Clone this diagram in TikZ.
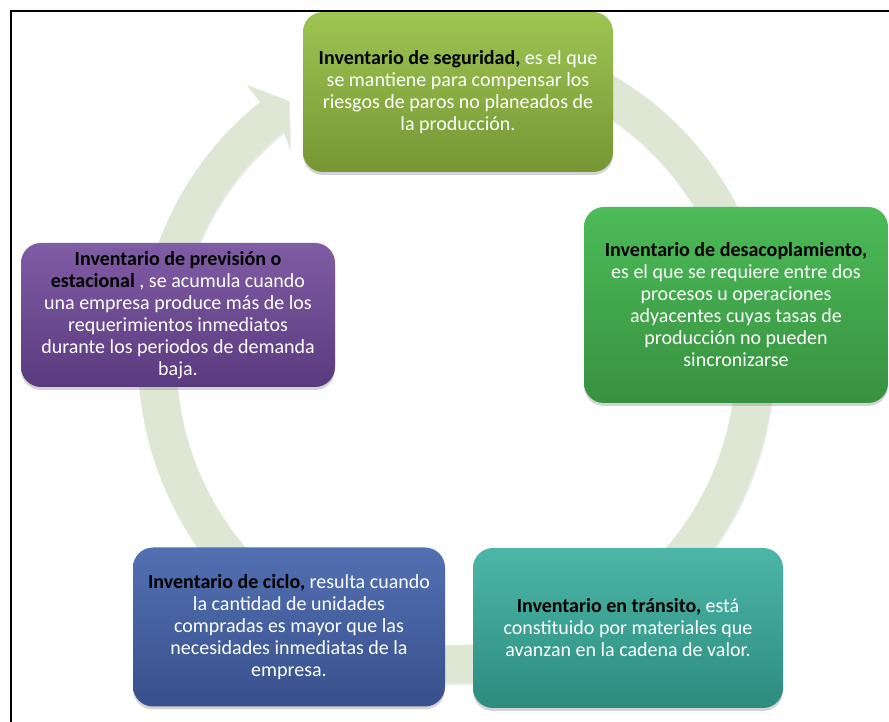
\documentclass[tikz,border=0pt]{standalone}
\usepackage{fontspec}
\setmainfont{Carlito}
\usetikzlibrary{shadows}

\definecolor{segtop}{RGB}{158,196,82}
\definecolor{segbot}{RGB}{118,150,52}
\definecolor{destop}{RGB}{76,187,88}
\definecolor{desbot}{RGB}{56,145,64}
\definecolor{trantop}{RGB}{76,182,168}
\definecolor{tranbot}{RGB}{44,140,126}
\definecolor{cictop}{RGB}{82,112,178}
\definecolor{cicbot}{RGB}{56,80,140}
\definecolor{prevtop}{RGB}{128,92,164}
\definecolor{prevbot}{RGB}{90,58,126}
\definecolor{ringfill}{RGB}{222,231,211}

\newcommand{\inv}[1]{\textcolor{black}{\textbf{#1}}}

\begin{document}
\begin{tikzpicture}[
  x=1pt, y=1pt,
  box/.style={rounded corners=20pt, inner sep=4pt, align=center, text=white,
    font=\fontsize{20}{22}\selectfont,
    drop shadow={shadow xshift=0pt, shadow yshift=-3pt, opacity=0.35}},
  seg/.style={box, top color=segtop, bottom color=segbot},
  des/.style={box, top color=destop, bottom color=desbot},
  tran/.style={box, top color=trantop, bottom color=tranbot},
  cic/.style={box, top color=cictop, bottom color=cicbot},
  prev/.style={box, top color=prevtop, bottom color=prevbot},
  ring/.style={fill=ringfill, drop shadow={shadow xshift=1pt, shadow yshift=-2pt, opacity=0.15}},
  frame/.style={line width=2.5pt}
]
\useasboundingbox (0,0) rectangle (889,722);

\coordinate (ctr) at (456,364);
\coordinate (obarb) at (247,637);
\coordinate (tip) at (289,621);
\coordinate (ibarb) at (290,573);

\fill[ring] ([shift={(70:318 and 325)}]ctr)
  arc[start angle=70, end angle=-232, x radius=318, y radius=325]
  -- (obarb) -- (tip) -- (ibarb)
  -- ([shift={(-232:280 and 287)}]ctr)
  arc[start angle=-232, end angle=70, x radius=280, y radius=287] -- cycle;

\node[seg, minimum width=310, minimum height=160] (seguridad) at (458,630)
  {\inv{Inventario de seguridad,} es el que\\se mantiene para compensar los\\riesgos de paros no planeados de\\la producción.};
\node[des, minimum width=304, minimum height=196] (desacople) at (736,417)
  {\inv{Inventario de desacoplamiento,}\\es el que se requiere entre dos\\procesos u operaciones\\adyacentes cuyas tasas de\\producción no pueden\\sincronizarse};
\node[tran, minimum width=310, minimum height=160] (transito) at (628,94)
  {\inv{Inventario en tránsito,} está\\constituido por materiales que\\avanzan en la cadena de valor.};
\node[cic, minimum width=312, minimum height=159] (ciclo) at (289,95)
  {\inv{Inventario de ciclo,} resulta cuando\\la cantidad de unidades\\compradas es mayor que las\\necesidades inmediatas de la\\empresa.};
\node[prev, minimum width=314, minimum height=144] (prevision) at (178,407)
  {\inv{Inventario de previsión o}\\\inv{estacional} , se acumula cuando\\una empresa produce más de los\\requerimientos inmediatos\\durante los periodos de demanda\\baja.};

\draw[frame] (11,0) -- (11,711) -- (889,711);
\end{tikzpicture}
\end{document}
